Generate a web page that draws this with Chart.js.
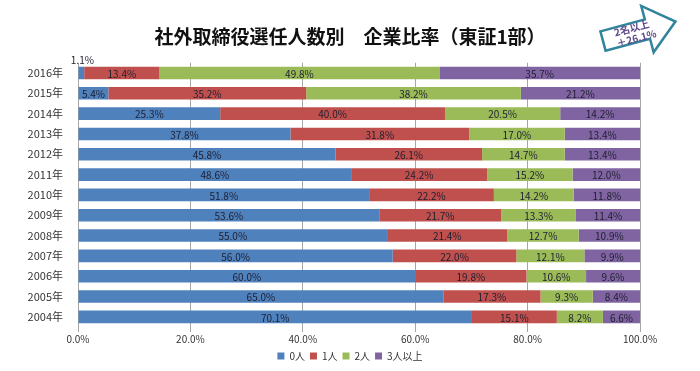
<html>

<head>
    <meta charset="utf-8" />
    <script src="https://cdn.jsdelivr.net/npm/chart.js@4/dist/chart.umd.min.js"></script>
    <title>社外取締役選任人数別 企業比率</title>
    <style>
        body { margin: 0; background: #fff; }
    </style>
</head>

<body>
    <canvas id="bar-chart" width="700" height="371"></canvas>
    <script>
        const years = ["2016年", "2015年", "2014年", "2013年", "2012年", "2011年", "2010年",
                       "2009年", "2008年", "2007年", "2006年", "2005年", "2004年"];
        const seriesNames = ["0人", "1人", "2人", "3人以上"];
        const zero  = [1.1, 5.4, 25.3, 37.8, 45.8, 48.6, 51.8, 53.6, 55.0, 56.0, 60.0, 65.0, 70.1];
        const one   = [13.4, 35.2, 40.0, 31.8, 26.1, 24.2, 22.2, 21.7, 21.4, 22.0, 19.8, 17.3, 15.1];
        const two   = [49.8, 38.2, 20.5, 17.0, 14.7, 15.2, 14.2, 13.3, 12.7, 12.1, 10.6, 9.3, 8.2];
        const three = [35.7, 21.2, 14.2, 13.4, 13.4, 12.0, 11.8, 11.4, 10.9, 9.9, 9.6, 8.4, 6.6];
        const colors = ["#4f81bd", "#c0504d", "#9bbb59", "#8064a2"];
        const FONT = "'Noto Sans CJK JP', 'Noto Sans', sans-serif";

        // value labels in the middle of each segment
        const barLabels = {
            id: "barLabels",
            afterDatasetsDraw(chart) {
                const ctx = chart.ctx;
                ctx.save();
                ctx.font = "10px " + FONT;
                ctx.fillStyle = "#1e1e30";
                ctx.textAlign = "center";
                ctx.textBaseline = "middle";
                chart.data.datasets.forEach((ds, i) => {
                    chart.getDatasetMeta(i).data.forEach((bar, j) => {
                        const txt = ds.data[j].toFixed(1) + "%";
                        const w = Math.abs(bar.x - bar.base);
                        if (w < 20) {
                            ctx.fillText(txt, (bar.x + bar.base) / 2 + 1, bar.y - bar.height / 2 - 6);
                        } else {
                            ctx.fillText(txt, (bar.x + bar.base) / 2, bar.y + 1);
                        }
                    });
                });
                ctx.restore();
            }
        };

        // the "2名以上 +26.1%" arrow in the corner
        const arrowNote = {
            id: "arrowNote",
            afterDraw(chart) {
                const ctx = chart.ctx;
                ctx.save();
                ctx.translate(603, 41);
                ctx.rotate(-15 * Math.PI / 180);
                ctx.beginPath();
                ctx.moveTo(0, -10);
                ctx.lineTo(46, -10);
                ctx.lineTo(46, -24);
                ctx.lineTo(75, 0);
                ctx.lineTo(46, 24);
                ctx.lineTo(46, 10);
                ctx.lineTo(0, 10);
                ctx.closePath();
                ctx.fillStyle = "#fff";
                ctx.fill();
                ctx.lineWidth = 2.5;
                ctx.strokeStyle = "#31849b";
                ctx.stroke();
                ctx.fillStyle = "#5f4a8b";
                ctx.font = "bold 10px " + FONT;
                ctx.textAlign = "center";
                ctx.textBaseline = "middle";
                ctx.fillText("2名以上", 31, -5);
                ctx.fillText("＋26.1%", 33, 6);
                ctx.restore();
            }
        };

        new Chart(document.getElementById("bar-chart"), {
            type: "bar",
            data: {
                labels: years,
                datasets: [zero, one, two, three].map((d, i) => ({
                    label: seriesNames[i],
                    data: d,
                    backgroundColor: colors[i],
                    borderWidth: 0,
                    categoryPercentage: 1,
                    barPercentage: 0.62
                }))
            },
            options: {
                indexAxis: "y",
                responsive: false,
                animation: false,
                layout: { padding: { left: 0, right: 0, bottom: 0 } },
                scales: {
                    x: {
                        stacked: true,
                        min: 0,
                        max: 100,
                        ticks: {
                            stepSize: 20,
                            padding: 1,
                            color: "#333",
                            font: { family: FONT, size: 10 }
                        ,
                            callback: v => v.toFixed(1) + "%"
                        },
                        grid: { color: "#a6a6a6", tickLength: 5 },
                        border: { display: false }
                    },
                    y: {
                        stacked: true,
                        ticks: {
                            padding: 7,
                            color: "#333",
                            font: { family: FONT, size: 11 }
                        },
                        grid: { display: false },
                        border: { display: false },
                        afterFit: s => { s.width = 78; }
                    },
                    // empty right-hand strip so the title and legend stay centred on the page
                    spacer: {
                        type: "linear",
                        position: "right",
                        ticks: { display: false },
                        grid: { display: false },
                        border: { display: false },
                        afterFit: s => { s.width = 60; }
                    }
                },
                plugins: {
                    title: {
                        display: true,
                        text: "社外取締役選任人数別　企業比率（東証1部）",
                        color: "#111",
                        font: { family: FONT, size: 19, weight: "bold" },
                        padding: { top: 25, bottom: 15 }
                    },
                    legend: {
                        position: "bottom",
                        labels: {
                            boxWidth: 7,
                            boxHeight: 7,
                            padding: 5,
                            color: "#333",
                            font: { family: FONT, size: 10 }
                        }
                    },
                    tooltip: { enabled: false }
                }
            },
            plugins: [barLabels, arrowNote]
        });
    </script>
</body>

</html>
